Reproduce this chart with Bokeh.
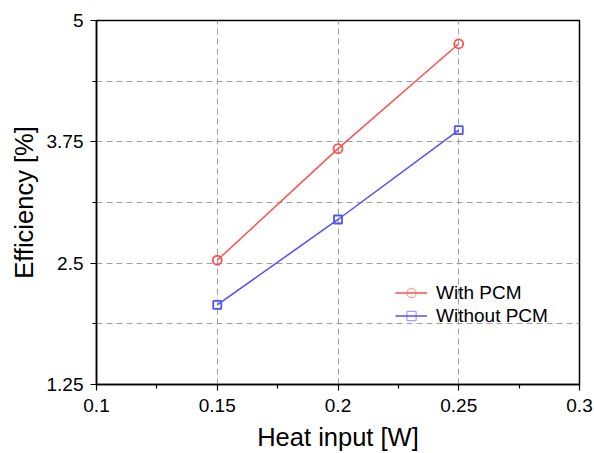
from bokeh.plotting import figure
from bokeh.models import FixedTicker, Range1d, Legend, LegendItem, ColumnDataSource
from bokeh.embed import file_html
from bokeh.resources import INLINE

heat_input = [0.15, 0.2, 0.25]
with_pcm = [2.53, 3.68, 4.76]
without_pcm = [2.07, 2.95, 3.87]

x_ticks = [0.1, 0.15, 0.2, 0.25, 0.3]
x_tick_labels = ["0.1", "0.15", "0.2", "0.25", "0.3"]
x_minor = [0.125, 0.175, 0.225, 0.275]
y_ticks = [1.25, 2.5, 3.75, 5.0]
y_tick_labels = ["1.25", "2.5", "3.75", "5"]
y_minor = [1.875, 3.125, 4.375]

FONT = "Liberation Sans"
RED = "#FF5050"
BLUE = "#5050FF"

p = figure(width=594, height=453, output_backend="svg", toolbar_location=None,
           x_range=Range1d(0.1, 0.3), y_range=Range1d(1.25, 5.0),
           min_border_left=96, min_border_right=15, min_border_top=20, min_border_bottom=69)
p.background_fill_color = "white"
p.border_fill_color = "white"
p.outline_line_color = "black"
p.outline_line_width = 1.5

for ax in (p.xaxis[0], p.yaxis[0]):
    ax.axis_line_color = "black"
    ax.axis_line_width = 1.5
    ax.major_tick_line_color = "black"
    ax.minor_tick_line_color = "black"
    ax.major_tick_line_width = 1.2
    ax.minor_tick_line_width = 1.2
    ax.major_tick_out = 6
    ax.major_tick_in = 0
    ax.minor_tick_out = 4
    ax.minor_tick_in = 0
    ax.major_label_text_font = FONT
    ax.major_label_text_font_size = "19px"
    ax.major_label_text_color = "black"
    ax.axis_label_text_font = FONT
    ax.axis_label_text_font_size = "25.5px"
    ax.axis_label_text_font_style = "normal"
    ax.axis_label_text_color = "black"

p.xaxis.ticker = FixedTicker(ticks=x_ticks, minor_ticks=x_minor)
p.xaxis.major_label_overrides = {t: l for t, l in zip(x_ticks, x_tick_labels)}
p.yaxis.ticker = FixedTicker(ticks=y_ticks, minor_ticks=y_minor)
p.yaxis.major_label_overrides = {t: l for t, l in zip(y_ticks, y_tick_labels)}
p.xaxis.axis_label = "Heat input [W]"
p.yaxis.axis_label = "Efficiency [%]"
p.xaxis.major_label_standoff = 8
p.xaxis.axis_label_standoff = 8
p.yaxis.major_label_standoff = 7
p.yaxis.axis_label_standoff = 6

p.xgrid.grid_line_color = "#A0A0A0"
p.xgrid.grid_line_dash = "6 4"
p.xgrid.grid_line_width = 1
p.ygrid.grid_line_color = "#A0A0A0"
p.ygrid.grid_line_dash = "6 4"
p.ygrid.grid_line_width = 1
p.ygrid.minor_grid_line_color = "#A0A0A0"
p.ygrid.minor_grid_line_dash = "6 4"
p.ygrid.minor_grid_line_width = 1

src_w = ColumnDataSource(dict(x=heat_input, y=with_pcm))
src_wo = ColumnDataSource(dict(x=heat_input, y=without_pcm))

l1 = p.line("x", "y", source=src_w, line_color=RED, line_width=1.5)
s1 = p.scatter("x", "y", source=src_w, marker="circle", size=9, fill_color=None,
               line_color=RED, line_width=1.8)
l2 = p.line("x", "y", source=src_wo, line_color=BLUE, line_width=1.5)
s2 = p.scatter("x", "y", source=src_wo, marker="square", size=8, fill_color=None,
               line_color=BLUE, line_width=1.8)

# lighter markers for the legend only (point kept off the visible range)
offscreen = ColumnDataSource(dict(x=[-1.0], y=[-1.0]))
lm1 = p.scatter("x", "y", source=offscreen, marker="circle", size=10, fill_color=None,
                line_color=RED, line_alpha=0.55, line_width=1.2)
lm2 = p.scatter("x", "y", source=offscreen, marker="square", size=10, fill_color=None,
                line_color=BLUE, line_alpha=0.55, line_width=1.2)

legend = Legend(items=[LegendItem(label="With PCM", renderers=[l1, lm1]),
                       LegendItem(label="Without PCM", renderers=[l2, lm2])],
                location=(299, 57))
legend.border_line_color = None
legend.background_fill_alpha = 0
legend.label_text_font = FONT
legend.label_text_font_size = "19px"
legend.label_text_color = "black"
legend.glyph_width = 32
legend.glyph_height = 23
legend.label_height = 23
legend.label_standoff = 9
legend.spacing = 0
legend.padding = 0
legend.margin = 0
p.add_layout(legend, "center")

open("out.html", "w").write(file_html(p, INLINE))
